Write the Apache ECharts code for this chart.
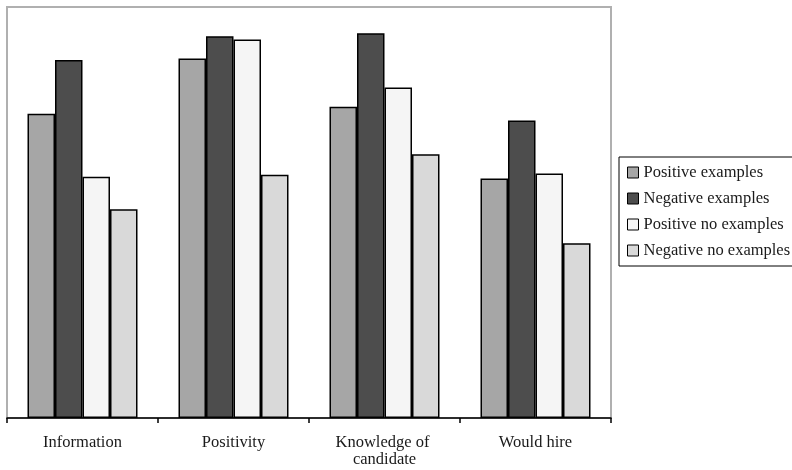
<!DOCTYPE html>
<html>
<head>
<meta charset="utf-8">
<script src="https://cdn.jsdelivr.net/npm/echarts@6/dist/echarts.min.js"></script>
<style>
  html, body { margin: 0; padding: 0; background: #fff; }
  #chart { width: 792px; height: 470px; }
</style>
</head>
<body>
<div id="chart"></div>
<script>
// Mean ratings per question, by condition (0–100 scale)
const categories = ['Information', 'Positivity', 'Knowledge of candidate', 'Would hire'];
const seriesNames = ['Positive examples', 'Negative examples', 'Positive no examples', 'Negative no examples'];
const positiveExamples   = [74.0, 87.5, 75.7, 58.3];
const negativeExamples   = [87.1, 92.9, 93.6, 72.4];
const positiveNoExamples = [58.7, 92.1, 80.4, 59.5];
const negativeNoExamples = [50.8, 59.2, 64.2, 42.5];
const fills = ['#a6a6a6', '#4d4d4d', '#f5f5f5', '#d9d9d9'];

const values = [positiveExamples, negativeExamples, positiveNoExamples, negativeNoExamples];
const font = "'Liberation Serif', 'Times New Roman', serif";

const chart = echarts.init(document.getElementById('chart'), null, { renderer: 'canvas' });
chart.setOption({
  animation: false,
  backgroundColor: '#ffffff',
  textStyle: { fontFamily: font },
  grid: {
    left: 7, top: 7, right: 181, bottom: 52,
    show: true, borderColor: '#b0b0b0', borderWidth: 2, backgroundColor: 'transparent'
  },
  legend: {
    orient: 'vertical',
    left: 619, top: 157,
    padding: [7, 10, 7, 8],
    itemWidth: 11, itemHeight: 11, itemGap: 9,
    icon: 'rect',
    borderColor: '#000', borderWidth: 1,
    itemStyle: { borderColor: '#000', borderWidth: 1 },
    textStyle: { fontFamily: font, fontSize: 16.5, color: '#1a1a1a' },
    data: seriesNames
  },
  xAxis: {
    type: 'category',
    data: categories,
    axisLine: { lineStyle: { color: '#000', width: 1.5 } },
    axisTick: { show: true, interval: 0, length: 5, lineStyle: { color: '#000', width: 1.5 } },
    axisLabel: {
      interval: 0,
      fontFamily: font, fontSize: 16.5, color: '#1a1a1a', margin: 16,
      width: 115, overflow: 'break', lineHeight: 17
    }
  },
  yAxis: {
    type: 'value', min: 0, max: 100,
    show: false,
    splitLine: { show: false }
  },
  series: seriesNames.map((name, i) => ({
    name,
    type: 'bar',
    data: values[i],
    barWidth: 27.5,
    barGap: '0%',
    itemStyle: { color: fills[i], borderColor: '#000', borderWidth: 1.5 }
  }))
});
</script>
</body>
</html>
